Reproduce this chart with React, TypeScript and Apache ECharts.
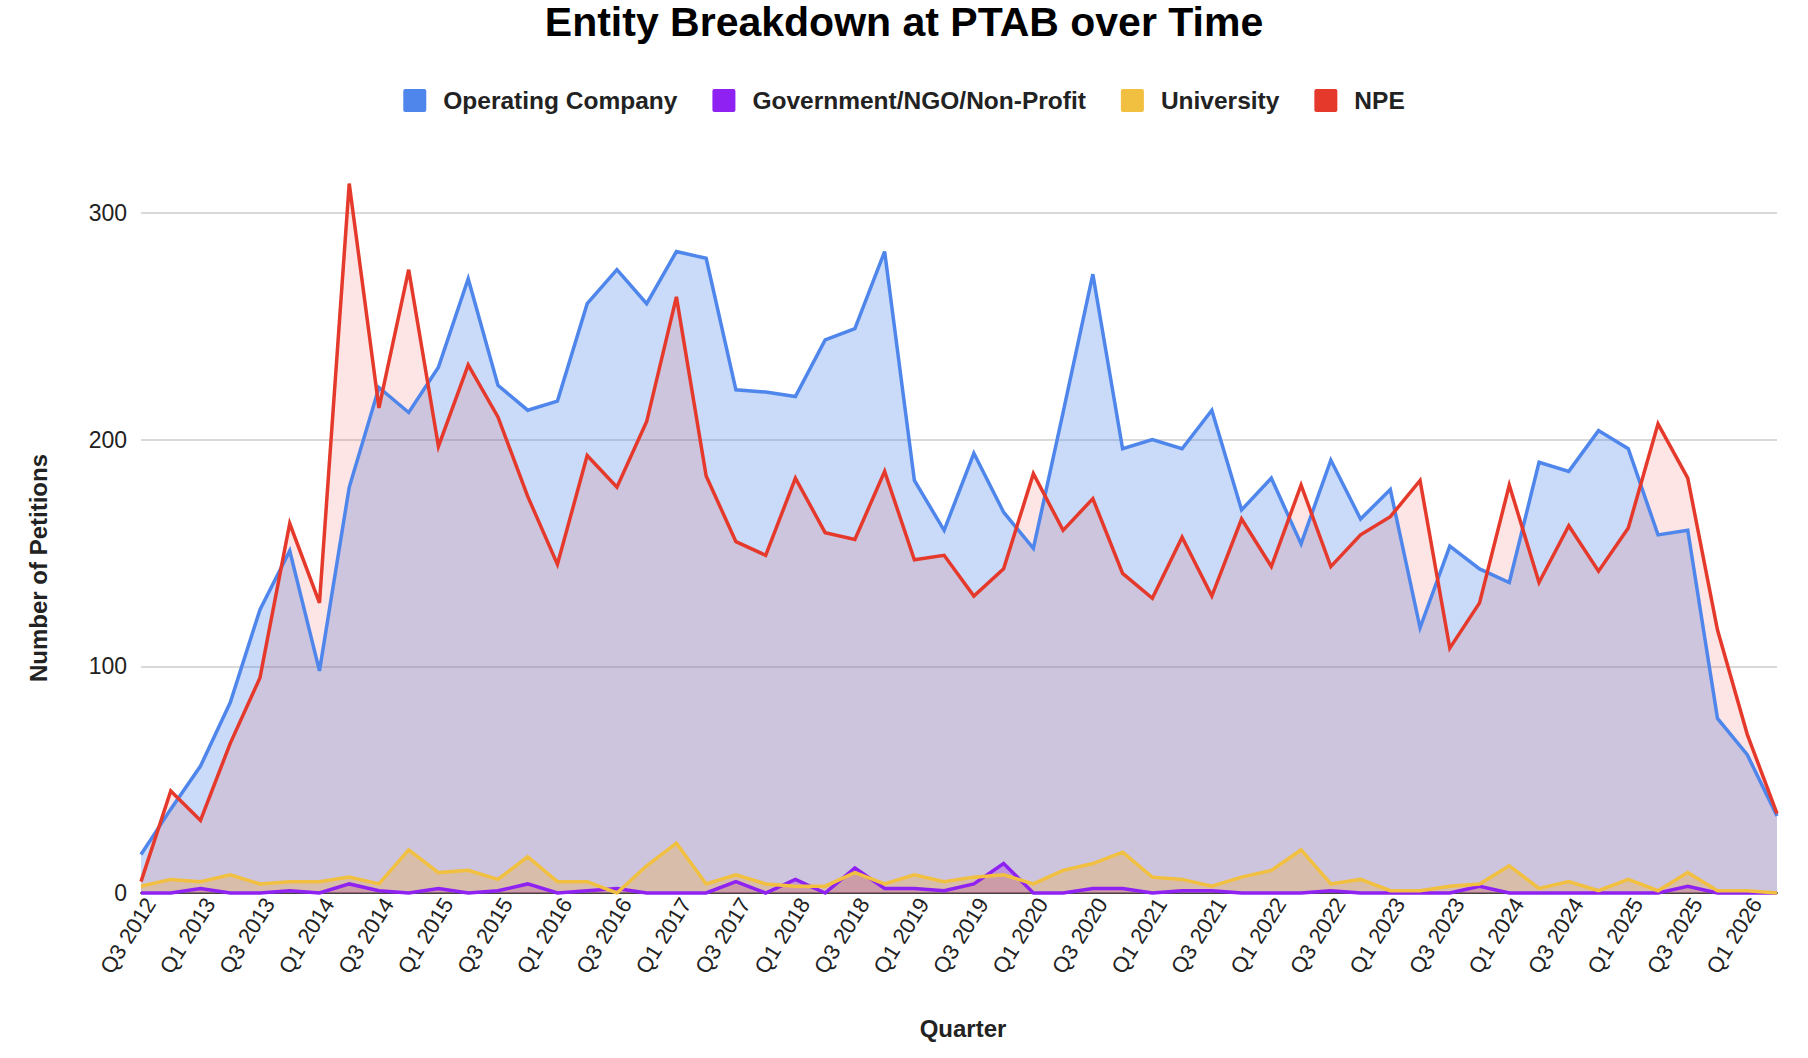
import React, { useEffect, useRef } from "react";
import * as echarts from "echarts";

const quarters = [
  "Q3 2012", "Q4 2012", "Q1 2013", "Q2 2013", "Q3 2013", "Q4 2013",
  "Q1 2014", "Q2 2014", "Q3 2014", "Q4 2014", "Q1 2015", "Q2 2015",
  "Q3 2015", "Q4 2015", "Q1 2016", "Q2 2016", "Q3 2016", "Q4 2016",
  "Q1 2017", "Q2 2017", "Q3 2017", "Q4 2017", "Q1 2018", "Q2 2018",
  "Q3 2018", "Q4 2018", "Q1 2019", "Q2 2019", "Q3 2019", "Q4 2019",
  "Q1 2020", "Q2 2020", "Q3 2020", "Q4 2020", "Q1 2021", "Q2 2021",
  "Q3 2021", "Q4 2021", "Q1 2022", "Q2 2022", "Q3 2022", "Q4 2022",
  "Q1 2023", "Q2 2023", "Q3 2023", "Q4 2023", "Q1 2024", "Q2 2024",
  "Q3 2024", "Q4 2024", "Q1 2025", "Q2 2025", "Q3 2025", "Q4 2025",
  "Q1 2026", "Q2 2026",
];

const operatingCompany = [
  17, 37, 56, 84, 125, 151, 98, 179, 223, 212, 232, 271, 224, 213, 217, 260,
  275, 260, 283, 280, 222, 221, 219, 244, 249, 283, 182, 160, 194, 168, 152, 212,
  273, 196, 200, 196, 213, 169, 183, 154, 191, 165, 178, 117, 153, 143, 137, 190,
  186, 204, 196, 158, 160, 77, 61, 34,
];

const government = [
  0, 0, 2, 0, 0, 1, 0, 4, 1, 0, 2, 0, 1, 4, 0, 1,
  2, 0, 0, 0, 5, 0, 6, 0, 11, 2, 2, 1, 4, 13, 0, 0,
  2, 2, 0, 1, 1, 0, 0, 0, 1, 0, 0, 0, 0, 3, 0, 0,
  0, 0, 0, 0, 3, 0, 0, 0,
];

const university = [
  3, 6, 5, 8, 4, 5, 5, 7, 4, 19, 9, 10, 6, 16, 5, 5,
  0, 12, 22, 4, 8, 4, 3, 3, 9, 4, 8, 5, 7, 8, 4, 10,
  13, 18, 7, 6, 3, 7, 10, 19, 4, 6, 1, 1, 3, 4, 12, 2,
  5, 1, 6, 1, 9, 1, 1, 0,
];

const npe = [
  5, 45, 32, 66, 95, 163, 128, 313, 214, 275, 197, 233, 210, 175, 145, 193,
  179, 208, 263, 184, 155, 149, 183, 159, 156, 186, 147, 149, 131, 143, 185, 160,
  174, 141, 130, 157, 131, 165, 144, 180, 144, 158, 166, 182, 108, 128, 180, 137,
  162, 142, 161, 207, 183, 116, 70, 35,
];

const seriesDefs = [
  { name: "Operating Company", data: operatingCompany, color: "#4F86EC", area: "rgba(79,134,236,0.30)" },
  { name: "Government/NGO/Non-Profit", data: government, color: "#8F22F2", area: "rgba(143,34,242,0.30)" },
  { name: "University", data: university, color: "#F1C040", area: "rgba(241,192,64,0.32)" },
  { name: "NPE", data: npe, color: "#E5392B", area: "rgba(229,57,43,0.13)" },
];

const FONT = "'Liberation Sans', Arial, Helvetica, sans-serif";
const LEGEND_ICON =
  "path://M2,0 H21 A2,2 0 0 1 23,2 V21 A2,2 0 0 1 21,23 H2 A2,2 0 0 1 0,21 V2 A2,2 0 0 1 2,0 Z";

export default function App() {
  const ref = useRef<HTMLDivElement>(null);

  useEffect(() => {
    document.body.style.margin = "0";
    if (!ref.current) return;
    const chart = echarts.init(ref.current, undefined, { renderer: "svg" });

    const areaSeries = seriesDefs.map((s, i) => ({
      name: "_area" + i,
      type: "line",
      data: s.data,
      symbol: "none",
      clip: false,
      silent: true,
      z: 2,
      lineStyle: { width: 0, opacity: 0 },
      itemStyle: { color: s.color },
      areaStyle: { color: s.area, opacity: 1 },
    }));

    const lineSeries = seriesDefs.map((s) => ({
      name: s.name,
      type: "line",
      data: s.data,
      symbol: "none",
      clip: false,
      z: 3,
      lineStyle: { width: 3.5, color: s.color, join: "miter" },
      itemStyle: { color: s.color },
    }));

    chart.setOption({
      animation: false,
      backgroundColor: "#ffffff",
      textStyle: { fontFamily: FONT },
      title: {
        text: "Entity Breakdown at PTAB over Time",
        left: "center",
        top: 1,
        padding: 0,
        textStyle: { fontFamily: FONT, fontSize: 41, fontWeight: "bold", color: "#000000" },
      },
      legend: {
        data: seriesDefs.map((s) => s.name),
        left: "center",
        top: 83,
        icon: LEGEND_ICON,
        itemWidth: 23,
        itemHeight: 23,
        itemGap: 35,
        textStyle: {
          fontFamily: FONT,
          fontSize: 24.5,
          fontWeight: "bold",
          color: "#222222",
          padding: [0, 0, 0, 12],
        },
      },
      grid: { left: 141, right: 31, top: 213, bottom: 165, containLabel: false },
      xAxis: {
        type: "category",
        data: quarters,
        boundaryGap: false,
        axisLine: { show: true, lineStyle: { color: "#444444", width: 2 } },
        axisTick: { show: false },
        splitLine: { show: false },
        axisLabel: {
          interval: 1,
          rotate: 58,
          margin: 1,
          verticalAlign: "top",
          fontFamily: FONT,
          fontSize: 22,
          color: "#222222",
        },
      },
      yAxis: {
        type: "value",
        min: 0,
        max: 300,
        interval: 100,
        axisLine: { show: false },
        axisTick: { show: false },
        splitLine: { show: true, lineStyle: { color: "#cccccc", width: 1.5 } },
        axisLabel: { margin: 14, fontFamily: FONT, fontSize: 23, color: "#222222" },
      },
      graphic: [
        {
          type: "text",
          x: 38,
          y: 568,
          rotation: Math.PI / 2,
          style: {
            text: "Number of Petitions",
            fontFamily: FONT,
            fontSize: 24,
            fontWeight: "bold",
            fill: "#222222",
            textAlign: "center",
            textVerticalAlign: "middle",
          },
        },
        {
          type: "text",
          x: 963,
          y: 1028,
          style: {
            text: "Quarter",
            fontFamily: FONT,
            fontSize: 24,
            fontWeight: "bold",
            fill: "#222222",
            textAlign: "center",
            textVerticalAlign: "middle",
          },
        },
      ],
      series: [...areaSeries, ...lineSeries],
    });

    return () => chart.dispose();
  }, []);

  return <div ref={ref} style={{ width: 1808, height: 1058 }} />;
}
